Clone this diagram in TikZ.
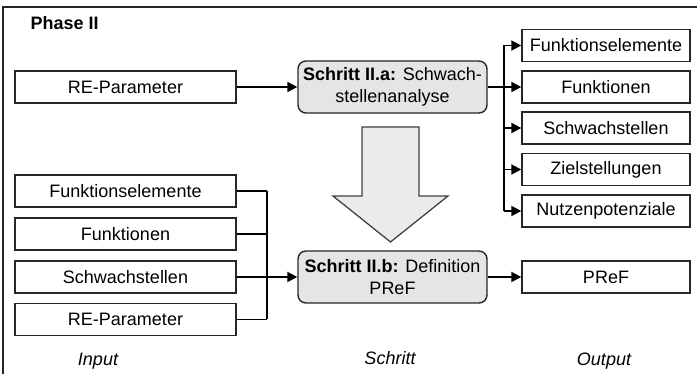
\documentclass[tikz,border=0pt]{standalone}
\usepackage{fontspec}
\setmainfont{Liberation Sans}
\usetikzlibrary{arrows.meta,calc}

\tikzset{
  every node/.style={font=\fontsize{18}{22}\selectfont},
  iobox/.style={draw=black!85, line width=1.4pt, inner sep=0pt, minimum height=32pt},
  inbox/.style={iobox, minimum width=221pt},
  outbox/.style={iobox, minimum width=168pt},
  stepbox/.style={draw=black!85, line width=1.4pt, rounded corners=8pt, fill=black!10,
                  minimum width=189pt, minimum height=52pt, inner sep=0pt, align=center},
  conn/.style={line width=1.8pt, black},
  arr/.style={conn, -{Triangle[length=10pt,width=10pt]}},
  caption/.style={font=\fontsize{18}{22}\selectfont\itshape, anchor=base}
}

\begin{document}
\begin{tikzpicture}[x=1pt,y=-1pt]
  \useasboundingbox (0,0) rectangle (697,374);

  % frame (top and left edges)
  \draw[line width=2pt, black!85] (3,374) -- (3,7) -- (697,7);

  \node[anchor=west, font=\fontsize{18}{22}\selectfont\bfseries] (phase) at (27,23) {Phase II};

  % step II.a
  \node[inbox] (re1) at (125.5,87) {RE-Parameter};
  \node[stepbox] (sa) at (392.5,87) {\textbf{Schritt II.a:} Schwach-\\stellenanalyse};

  % outputs of II.a
  \node[outbox] (o1) at (606,45.5) {Funktionselemente};
  \node[outbox] (o2) at (606,87) {Funktionen};
  \node[outbox] (o3) at (606,128) {Schwachstellen};
  \node[outbox] (o4) at (606,169.5) {Zielstellungen};
  \node[outbox] (o5) at (606,211) {Nutzenpotenziale};

  \draw[arr] (re1.east) -- (sa.west);
  \coordinate (busr) at (504,87);
  \draw[conn] (sa.east) -- (busr);
  \draw[conn] (busr |- o1.west) -- (busr |- o5.west);
  \foreach \o in {o1,o2,o3,o4,o5}
    \draw[arr] (busr |- \o.west) -- (\o.west);

  % big transition arrow
  \draw[line width=1.3pt, draw=black!75, fill=black!8]
    (362,127) -- (419,127) -- (419,196) -- (448,196) -- (390.5,242)
    -- (333,196) -- (362,196) -- cycle;

  % step II.b
  \node[inbox] (i1) at (125.5,191) {Funktionselemente};
  \node[inbox] (i2) at (125.5,234) {Funktionen};
  \node[inbox] (i3) at (125.5,277) {Schwachstellen};
  \node[inbox] (i4) at (125.5,319.5) {RE-Parameter};
  \node[stepbox] (sb) at (392.5,277) {\textbf{Schritt II.b:} Definition\\PReF};
  \node[outbox] (pref) at (606,277) {PReF};

  \coordinate (busl) at (267,277);
  \foreach \i in {i1,i2,i4}
    \draw[conn] (\i.east) -- (busl |- \i.east);
  \draw[conn] (busl |- i1.east) -- (busl |- i4.east);
  \draw[arr] (i3.east) -- (sb.west);
  \draw[arr] (sb.east) -- (pref.west);

  % column captions
  \node[caption] (cin) at (98,366) {Input};
  \node[caption] (cstep) at (390,365) {Schritt};
  \node[caption] (cout) at (604,366) {Output};
\end{tikzpicture}
\end{document}
